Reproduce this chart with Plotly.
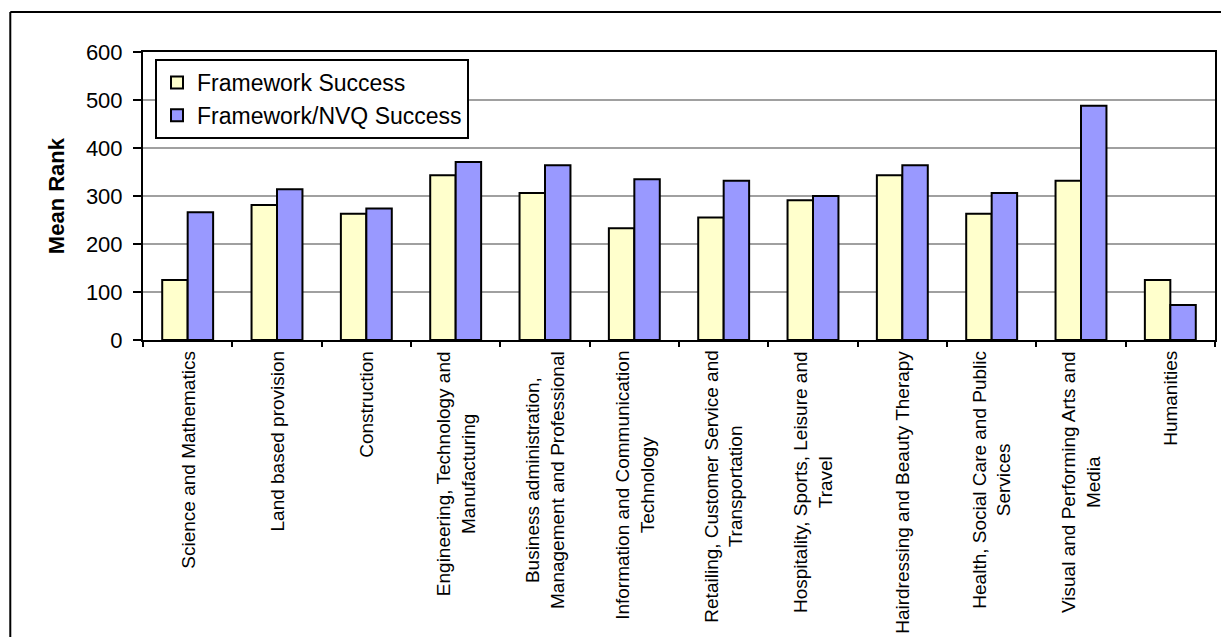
import plotly.graph_objects as go

# Learning areas (x categories) and their rotated, line-broken labels
categories = [
    "Science and Mathematics",
    "Land based provision",
    "Construction",
    "Engineering, Technology and Manufacturing",
    "Business administration, Management and Professional",
    "Information and Communication Technology",
    "Retailing, Customer Service and Transportation",
    "Hospitality, Sports, Leisure and Travel",
    "Hairdressing and Beauty Therapy",
    "Health, Social Care and Public Services",
    "Visual and Performing Arts and Media",
    "Humanities",
]
tick_labels = [
    "Science and Mathematics",
    "Land based provision",
    "Construction",
    "Engineering, Technology and<br>Manufacturing",
    "Business administration,<br>Management and Professional",
    "Information and Communication<br>Technology",
    "Retailing, Customer Service and<br>Transportation",
    "Hospitality, Sports, Leisure and<br>Travel",
    "Hairdressing and Beauty Therapy",
    "Health, Social Care and Public<br>Services",
    "Visual and Performing Arts and<br>Media",
    "Humanities",
]

# Mean rank per learning area
framework_success = [125, 281, 263, 343, 306, 233, 255, 291, 343, 263, 332, 125]
framework_nvq_success = [266, 314, 274, 371, 364, 335, 332, 300, 364, 306, 488, 73]

y_ticks = [0, 100, 200, 300, 400, 500, 600]

FONT = "Arial, Liberation Sans, sans-serif"

fig = go.Figure()
fig.add_trace(go.Bar(
    name="Framework Success", x=categories, y=framework_success,
    marker=dict(color="#FFFFCC", line=dict(color="black", width=2)),
))
fig.add_trace(go.Bar(
    name="Framework/NVQ Success", x=categories, y=framework_nvq_success,
    marker=dict(color="#9999FF", line=dict(color="black", width=2)),
))

# Category labels: rotated, lines centred, hanging below the axis
annotations = [
    dict(x=c, y=0, xref="x", yref="paper", text=t, textangle=-90,
         showarrow=False, xanchor="center", yanchor="top", yshift=-9,
         align="center", font=dict(family=FONT, size=19, color="black"))
    for c, t in zip(categories, tick_labels)
]
annotations.append(dict(
    x=-0.081, y=0.5, xref="paper", yref="paper", text="<b>Mean Rank</b>",
    textangle=-90, showarrow=False, xanchor="center", yanchor="middle",
    font=dict(family=FONT, size=22, color="black"),
))

# Outer chart frame (left and top edges)
frame_x, frame_y = -0.1238, 1.1389
shapes = [
    dict(type="line", xref="paper", yref="paper", x0=frame_x, x1=frame_x,
         y0=-1.2, y1=frame_y, line=dict(color="black", width=2)),
    dict(type="line", xref="paper", yref="paper", x0=frame_x, x1=1.2,
         y0=frame_y, y1=frame_y, line=dict(color="black", width=2)),
]

fig.update_layout(
    width=1221, height=637,
    margin=dict(l=143, r=4, t=52, b=297),
    paper_bgcolor="white", plot_bgcolor="white",
    barmode="group", bargap=0.43, bargroupgap=0,
    font=dict(family=FONT, color="black"),
    legend=dict(
        x=0.0112, y=0.9757, xanchor="left", yanchor="top",
        bgcolor="white", bordercolor="black", borderwidth=2,
        font=dict(family=FONT, size=23, color="black"),
        tracegroupgap=0,
    ),
    annotations=annotations,
    shapes=shapes,
    showlegend=True,
)
fig.update_xaxes(
    type="category", showticklabels=False, tickson="boundaries",
    ticks="outside", ticklen=5, tickwidth=1.5, tickcolor="black",
    showline=True, linecolor="black", linewidth=2, mirror=True,
    showgrid=False,
)
fig.update_yaxes(
    range=[0, 600], tickvals=y_ticks, ticks="outside", ticklen=8,
    tickwidth=1.5, tickcolor="black", ticklabelstandoff=6,
    tickfont=dict(family=FONT, size=22, color="black"),
    showline=True, linecolor="black", linewidth=2, mirror=True,
    showgrid=True, gridcolor="#A0A0A0", gridwidth=2, zeroline=False,
)

fig.write_html("out.html")
